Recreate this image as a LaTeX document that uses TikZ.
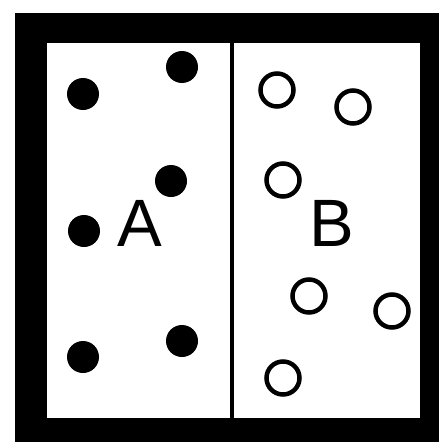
\documentclass[tikz,border=0pt]{standalone}
\usepackage{fontspec}
\setmainfont{Liberation Sans}
\begin{document}
\begin{tikzpicture}[x=1pt,y=-1pt,
  full/.style={circle,fill=black,inner sep=0pt,minimum size=32pt},
  hollow/.style={circle,draw=black,line width=4.5pt,inner sep=0pt,minimum size=33pt},
  lbl/.style={inner sep=0pt,anchor=base,font=\fontsize{67}{67}\selectfont}]
\useasboundingbox (0,0) rectangle (439,442);
\fill[white] (0,0) rectangle (439,442);
\fill[black] (15,13) rectangle (439,442);
\fill[white] (47,43) rectangle (420,418);
\coordinate (dtop) at (232,43);
\coordinate (dbot) at (232,418);
\draw[line width=4pt] (dtop) -- (dbot);
% filled particles (A side)
\node[full] (a1) at (83,94) {};
\node[full] (a2) at (182,67) {};
\node[full] (a3) at (171,181) {};
\node[full] (a4) at (84,231) {};
\node[full] (a5) at (83,357) {};
\node[full] (a6) at (182,341) {};
% hollow particles (B side)
\node[hollow] (b1) at (277,90) {};
\node[hollow] (b2) at (353,107) {};
\node[hollow] (b3) at (283,180) {};
\node[hollow] (b4) at (309,296) {};
\node[hollow] (b5) at (392,311) {};
\node[hollow] (b6) at (283,378) {};
\node[lbl] (la) at (140,246) {A};
\node[lbl] (lb) at (332,246) {B};
\end{tikzpicture}
\end{document}
